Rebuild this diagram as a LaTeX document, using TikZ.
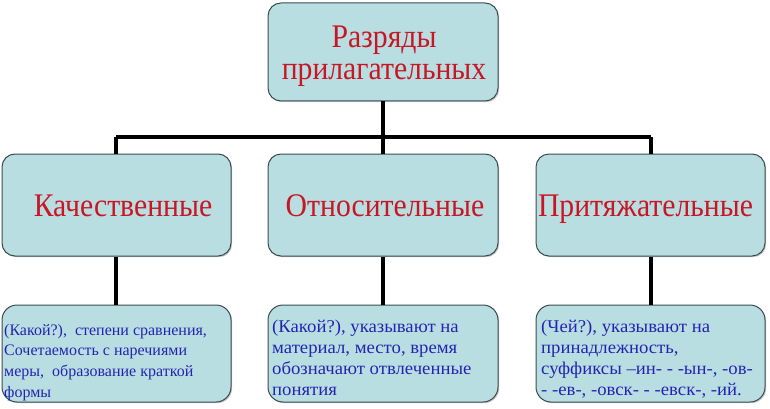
\documentclass[tikz,border=0pt]{standalone}
\usepackage{fontspec}
\setmainfont{Liberation Serif}
\newfontfamily\titlefont[FakeStretch=0.9]{Liberation Serif}
\newfontfamily\infofont[FakeStretch=1.04]{Liberation Serif}
\usetikzlibrary{shadows}
\definecolor{boxfill}{RGB}{185,222,226}
\definecolor{boxdraw}{RGB}{60,75,80}
\definecolor{titlered}{RGB}{200,22,36}
\definecolor{textblue}{RGB}{36,36,176}
\tikzset{
  box/.style={draw=boxdraw, line width=1pt, fill=boxfill, rounded corners=13pt,
    drop shadow={shadow xshift=1.2pt, shadow yshift=-1.2pt, opacity=0.45},
    inner sep=0pt},
  titletext/.style={text=titlered, inner sep=0pt, font=\titlefont\fontsize{33}{32}\selectfont},
  infobox/.style={box, rounded corners=15pt},
  infotext/.style={text=textblue, inner sep=0pt, anchor=base west},
  conn/.style={line width=3.5pt, black}
}
\begin{document}
\begin{tikzpicture}[x=1pt,y=-1pt]
\useasboundingbox (0,0) rectangle (770,409);
% boxes
\node[box, minimum width=230pt, minimum height=98pt] (top) at (383,52) {};
\node[box, minimum width=229pt, minimum height=102pt] (m1) at (116.5,205) {};
\node[box, minimum width=230pt, minimum height=102pt] (m2) at (383,205) {};
\node[box, minimum width=229pt, minimum height=102pt] (m3) at (650.5,205) {};
\node[infobox, minimum width=229pt, minimum height=97pt] (b1) at (116.5,353.5) {};
\node[infobox, minimum width=230pt, minimum height=97pt] (b2) at (383,353.5) {};
\node[infobox, minimum width=229pt, minimum height=97pt] (b3) at (650.5,353.5) {};
% titles
\node[titletext, anchor=base] (t0a) at (384,48) {Разряды};
\node[titletext, anchor=base] (t0b) at (384,80) {прилагательных};
\node[titletext, anchor=base] (t1) at (123,216) {Качественные};
\node[titletext, anchor=base] (t2) at (385,216) {Относительные};
\node[titletext, anchor=base] (t3) at (645.5,216) {Притяжательные};
% info texts
\node[infotext, font=\fontsize{16}{20.7}\selectfont] (i1) at (4,335)
  {\vtop{\baselineskip=20.7pt\hbox{(Какой?),\ \ степени сравнения,}\hbox{Сочетаемость с наречиями}\hbox{меры,\ \ образование краткой}\hbox{формы}}};
\node[infotext, font=\infofont\fontsize{18}{21}\selectfont] (i2) at (272,332)
  {\vtop{\baselineskip=21pt\hbox{(Какой?), указывают на}\hbox{материал, место, время}\hbox{обозначают отвлеченные}\hbox{понятия}}};
\node[infotext, font=\infofont\fontsize{18}{21}\selectfont] (i3) at (541,332)
  {\vtop{\baselineskip=21pt\hbox{(Чей?), указывают на}\hbox{принадлежность,}\hbox{суффиксы –ин- - -ын-, -ов-}\hbox{- -ев-, -овск- - -евск-, -ий.}}};
% connectors
\coordinate (busL) at (116,137);
\coordinate (busM) at (383,137);
\coordinate (busR) at (651,137);
\draw[conn] (top.south) -- (busM);
\draw[conn] (busL) -- (busR);
\draw[conn] (busL) -- (busL |- m1.north);
\draw[conn] (busM) -- (m2.north);
\draw[conn] (busR) -- (busR |- m3.north);
\draw[conn] (busL |- m1.south) -- (busL |- b1.north);
\draw[conn] (m2.south) -- (b2.north);
\draw[conn] (busR |- m3.south) -- (busR |- b3.north);
\end{tikzpicture}
\end{document}
